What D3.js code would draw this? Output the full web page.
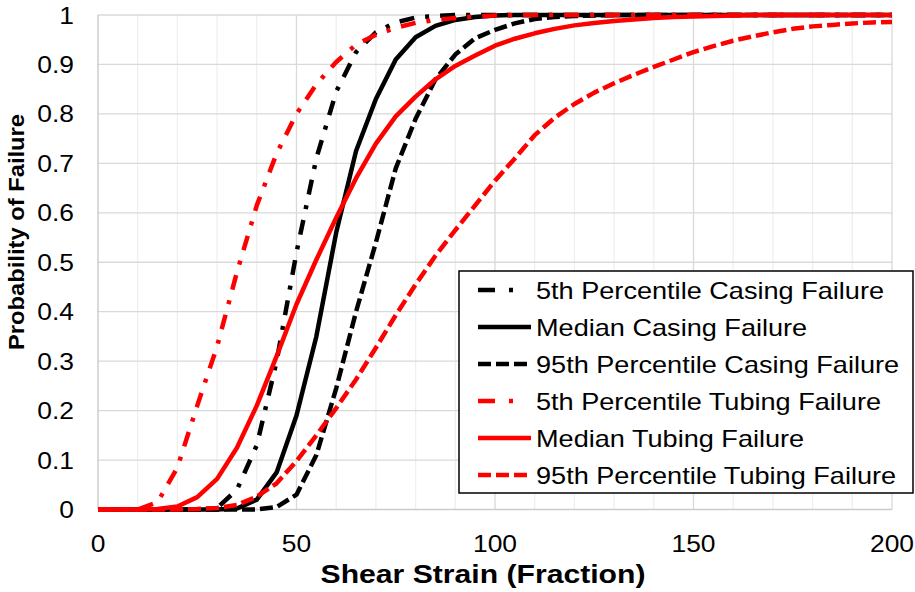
<!DOCTYPE html>
<html>
<head>
<meta charset="utf-8">
<script src="https://cdn.jsdelivr.net/npm/d3@7"></script>
<style>
  body { margin: 0; background: #fff; }
  svg { display: block; font-family: Arial, "Liberation Sans", sans-serif; }
</style>
</head>
<body>
<svg id="chart" width="915" height="592"></svg>
<script>
////////////////////////////////////////////////////////////////////////////////////
// Data
var strain = d3.range(0, 201, 5); // 0, 5, ..., 200

var casing5th  = [0,0,0,0,0,0,0.003,0.04,0.13,0.30,0.52,0.71,0.845,0.925,0.965,0.985,0.995,0.998,1,1,1,
                  1,1,1,1,1,1,1,1,1,1,1,1,1,1,1,1,1,1,1,1];
var casingMed  = [0,0,0,0,0,0,0,0.002,0.02,0.075,0.19,0.35,0.56,0.725,0.83,0.91,0.955,0.978,0.99,0.996,0.999,
                  1,1,1,1,1,1,1,1,1,1,1,1,1,1,1,1,1,1,1,1];
var casing95th = [0,0,0,0,0,0,0,0,0,0.005,0.03,0.11,0.245,0.40,0.54,0.69,0.79,0.87,0.92,0.953,0.97,
                  0.983,0.992,0.996,0.998,0.999,1,1,1,1,1,1,1,1,1,1,1,1,1,1,1];
var tubing5th  = [0,0,0,0.015,0.085,0.21,0.33,0.48,0.615,0.72,0.80,0.86,0.905,0.94,0.96,0.974,0.984,0.99,0.994,0.997,0.999,
                  1,1,1,1,1,1,1,1,1,1,1,1,1,1,1,1,1,1,1,1];
var tubingMed  = [0,0,0,0.001,0.006,0.025,0.062,0.125,0.21,0.31,0.415,0.505,0.59,0.67,0.74,0.795,0.835,0.87,0.897,0.918,0.938,
                  0.952,0.963,0.972,0.979,0.984,0.988,0.991,0.994,0.996,0.997,0.998,0.999,1,1,1,1,1,1,1,1];
var tubing95th = [0,0,0,0,0,0.001,0.003,0.009,0.026,0.053,0.098,0.15,0.205,0.263,0.327,0.393,0.455,0.513,0.565,0.615,0.665,
                  0.71,0.757,0.792,0.82,0.843,0.862,0.879,0.895,0.91,0.925,0.937,0.948,0.957,0.965,0.972,0.977,0.98,0.983,0.985,0.986];

var seriesNames = ["5th Percentile Casing Failure", "Median Casing Failure", "95th Percentile Casing Failure",
                   "5th Percentile Tubing Failure", "Median Tubing Failure", "95th Percentile Tubing Failure"];
var seriesValues = [casing5th, casingMed, casing95th, tubing5th, tubingMed, tubing95th];

var xTicks = [0, 50, 100, 150, 200];
var yTicks = [0, 0.1, 0.2, 0.3, 0.4, 0.5, 0.6, 0.7, 0.8, 0.9, 1];
var yTickLabels = ["0", "0.1", "0.2", "0.3", "0.4", "0.5", "0.6", "0.7", "0.8", "0.9", "1"];

////////////////////////////////////////////////////////////////////////////////////
// Styles per series
var seriesColor = ["#000", "#000", "#000", "#ff0000", "#ff0000", "#ff0000"];
var seriesDash  = ["15,11,4,11", null, "13,5", "15,11,4,11", null, "13,5"];

var svg = d3.select("#chart");
var xScale = d3.scaleLinear().domain([0, 200]).range([98, 892]);
var yScale = d3.scaleLinear().domain([0, 1]).range([509.5, 15]);

////////////////////////////////////////////////////////////////////////////////////
// Grid
svg.append("g").selectAll("line")
   .data(d3.range(0, 201, 10).filter(function(d) { return d % 50 != 0; }))
   .enter().append("line")
   .attr("x1", function(d) { return xScale(d); }).attr("x2", function(d) { return xScale(d); })
   .attr("y1", yScale(0)).attr("y2", yScale(1))
   .style("stroke", "#efefef").style("stroke-width", 1.3);

svg.append("g").selectAll("line")
   .data([50, 100, 150, 200])
   .enter().append("line")
   .attr("x1", function(d) { return xScale(d); }).attr("x2", function(d) { return xScale(d); })
   .attr("y1", yScale(0)).attr("y2", yScale(1))
   .style("stroke", "#d9d9d9").style("stroke-width", 1.3);

svg.append("g").selectAll("line")
   .data(yTicks.slice(1))
   .enter().append("line")
   .attr("x1", xScale(0)).attr("x2", xScale(200))
   .attr("y1", function(d) { return yScale(d); }).attr("y2", function(d) { return yScale(d); })
   .style("stroke", "#d9d9d9").style("stroke-width", 1.3);

// axis lines
svg.append("line").attr("x1", xScale(0)).attr("x2", xScale(0)).attr("y1", yScale(0)).attr("y2", yScale(1))
   .style("stroke", "#cccccc").style("stroke-width", 1.5);
svg.append("line").attr("x1", xScale(0)).attr("x2", xScale(200)).attr("y1", yScale(0)).attr("y2", yScale(0))
   .style("stroke", "#cccccc").style("stroke-width", 1.5);

////////////////////////////////////////////////////////////////////////////////////
// Tick labels
svg.append("g").selectAll("text")
   .data(yTicks)
   .enter().append("text")
   .attr("transform", function(d) { return "translate(74," + (yScale(d) + 8.5) + ") scale(1.1,1)"; })
   .attr("text-anchor", "end")
   .style("font-size", "24px").style("fill", "#000")
   .text(function(d, i) { return yTickLabels[i]; });

svg.append("g").selectAll("text")
   .data(xTicks)
   .enter().append("text")
   .attr("transform", function(d) { return "translate(" + xScale(d) + ",552) scale(1.1,1)"; })
   .attr("text-anchor", "middle")
   .style("font-size", "24px").style("fill", "#000")
   .text(function(d) { return d; });

// axis titles
svg.append("text")
   .attr("transform", "translate(483,583) scale(1.16,1)")
   .attr("text-anchor", "middle")
   .style("font-size", "26px").style("font-weight", "bold")
   .text("Shear Strain (Fraction)");

svg.append("text")
   .attr("transform", "translate(24,232) rotate(-90) scale(1.08,1)")
   .attr("text-anchor", "middle")
   .style("font-size", "22px").style("font-weight", "bold")
   .text("Probability of Failure");

////////////////////////////////////////////////////////////////////////////////////
// Lines
var line = d3.line()
             .x(function(d) { return xScale(d[0]); })
             .y(function(d) { return yScale(d[1]); });

svg.append("g").selectAll("path")
   .data(seriesValues)
   .enter().append("path")
   .attr("d", function(vals) {
     return line(strain.map(function(s, i) { return [s, vals[i]]; }));
   })
   .style("fill", "none")
   .style("stroke", function(d, i) { return seriesColor[i]; })
   .style("stroke-width", 4.5)
   .style("stroke-linejoin", "round")
   .style("stroke-dasharray", function(d, i) { return seriesDash[i]; });

////////////////////////////////////////////////////////////////////////////////////
// Legend
var legend = svg.append("g");
legend.append("rect")
      .attr("x", 459).attr("y", 271).attr("width", 454).attr("height", 222)
      .style("fill", "#fff").style("stroke", "#000").style("stroke-width", 1.5);

var legendRow = legend.selectAll(".legendRow")
                      .data(seriesNames)
                      .enter().append("g")
                      .attr("class", "legendRow")
                      .attr("transform", function(d, i) { return "translate(0," + (290 + i * 37) + ")"; });
legendRow.append("line")
         .attr("x1", 478).attr("x2", 531).attr("y1", 0).attr("y2", 0)
         .style("stroke", function(d, i) { return seriesColor[i]; })
         .style("stroke-width", 4.5)
         .style("stroke-dasharray", function(d, i) { return seriesDash[i] ? (i % 3 == 0 ? "17,14,4,20" : "13,5") : null; });
legendRow.append("text")
         .attr("transform", "translate(536,8.5) scale(1.13,1)")
         .style("font-size", "24px").style("fill", "#000")
         .text(function(d) { return d; });
</script>
</body>
</html>
